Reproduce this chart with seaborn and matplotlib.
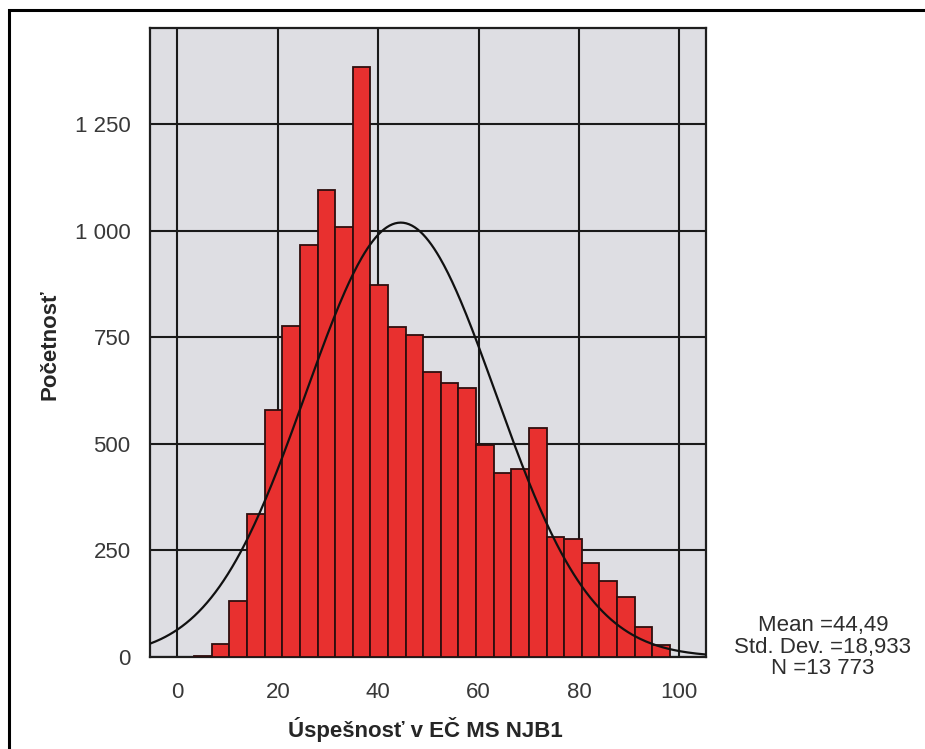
import numpy as np
import pandas as pd
import matplotlib
matplotlib.use("Agg")
import matplotlib.pyplot as plt
import matplotlib.ticker as mticker
from matplotlib.patches import Rectangle
import seaborn as sns

# histogram bins
bin_start = 3.34
bin_width = 3.51
counts = [3, 30, 131, 335, 579, 776, 966, 1094, 1009, 1383, 872, 775, 754,
          669, 642, 630, 497, 431, 440, 536, 281, 277, 221, 179, 141, 71, 27]

# summary stats printed next to the chart
mean_val = 44.49
std_val = 18.933
n_val = 13773

x_ticks = [0, 20, 40, 60, 80, 100]
y_ticks = [0, 250, 500, 750, 1000, 1250]
y_tick_labels = ["0", "250", "500", "750", "1 000", "1 250"]

bin_edges = bin_start + bin_width * np.arange(len(counts) + 1)
bin_centers = (bin_edges[:-1] + bin_edges[1:]) / 2
df = pd.DataFrame({"score": bin_centers, "count": counts})

sns.set_style("white")
plt.rcParams["font.family"] = ["Liberation Sans", "DejaVu Sans"]

fig = plt.figure(figsize=(9.25, 7.49), dpi=100)
ax = fig.add_axes([150 / 925, 1 - 657 / 749, 556 / 925, 629 / 749])
ax.set_facecolor("#dedee3")

sns.histplot(data=df, x="score", weights="count", bins=[float(b) for b in bin_edges],
             ax=ax, color="#e8302f", alpha=1, edgecolor="#2e0e0e", linewidth=1.3,
             zorder=3)

# fitted normal curve
xs = np.linspace(-5.5, 105.3, 400)
ys = n_val * bin_width / (std_val * np.sqrt(2 * np.pi)) * np.exp(-0.5 * ((xs - mean_val) / std_val) ** 2)
sns.lineplot(x=xs, y=ys, ax=ax, color="#111111", linewidth=1.6, zorder=4)

ax.set_xlim(-5.48, 105.32)
ax.set_ylim(0, 1475)
ax.set_xticks(x_ticks)
ax.set_yticks(y_ticks)
ax.yaxis.set_major_formatter(mticker.FixedFormatter(y_tick_labels))
ax.grid(True, color="#1a1a1a", linewidth=1.5, zorder=0)
ax.set_axisbelow(True)
ax.tick_params(axis="both", direction="out", length=13, width=1.4,
               color="#1e1e1e", labelsize=16, labelcolor="#383838", pad=1)
ax.tick_params(axis="x", pad=5)
for sp in ax.spines.values():
    sp.set_color("#1e1e1e")
    sp.set_linewidth(1.6)

ax.set_xlabel("Úspešnosť v EČ MS NJB1", fontsize=16, fontweight="bold", va="center")
ax.set_ylabel("Početnosť", fontsize=16, fontweight="bold", va="center")
ax.xaxis.set_label_coords(0.496, (657 - 730) / 629)
ax.yaxis.set_label_coords(-0.18, 0.496)

fig.text(823 / 925, 1 - 647 / 749,
         "Mean =44,49\nStd. Dev. =18,933\nN =13 773",
         ha="center", va="center", multialignment="center",
         fontsize=16, color="#2e2e2e", linespacing=1.05)

# outer frame (right and bottom fall outside the image)
fig.patches.append(Rectangle((9 / 925, -0.1), 1.2, 1 - 10 / 749 + 0.1,
                             transform=fig.transFigure, fill=False,
                             edgecolor="black", linewidth=2.2))

fig.savefig("out.png", dpi=100)
